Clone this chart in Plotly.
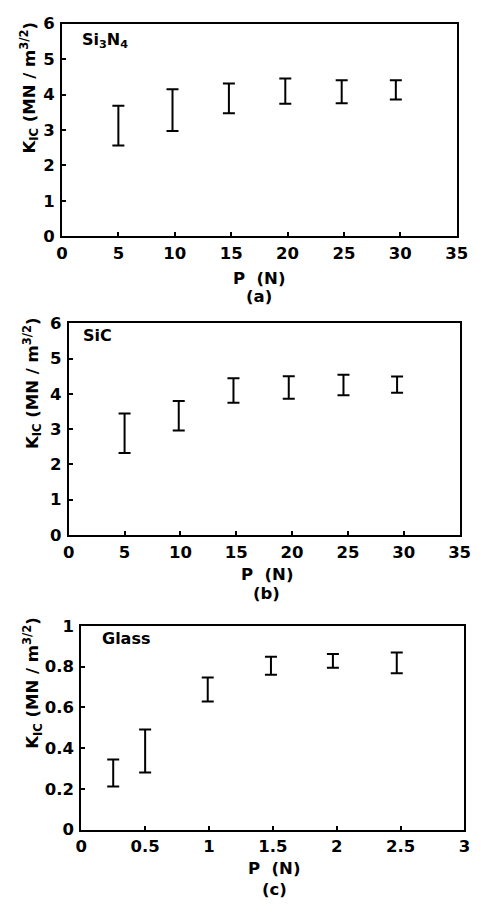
import plotly.graph_objects as go

# Panel (a) Si3N4
p_a = [5, 9.8, 14.8, 19.8, 24.8, 29.6]
lo_a = [2.56, 2.97, 3.47, 3.74, 3.75, 3.86]
hi_a = [3.68, 4.15, 4.31, 4.45, 4.40, 4.40]

# Panel (b) SiC
p_b = [5, 9.85, 14.75, 19.7, 24.6, 29.4]
lo_b = [2.32, 2.96, 3.75, 3.86, 3.96, 4.03]
hi_b = [3.44, 3.80, 4.44, 4.50, 4.54, 4.49]

# Panel (c) Glass
p_c = [0.25, 0.50, 0.99, 1.485, 1.97, 2.47]
lo_c = [0.211, 0.28, 0.629, 0.76, 0.795, 0.768]
hi_c = [0.344, 0.491, 0.747, 0.848, 0.862, 0.869]

labels = ["Si<sub>3</sub>N<sub>4</sub>", "SiC", "Glass"]
panel_tags = ["(a)", "(b)", "(c)"]

W, H = 488, 914
FONT = dict(family="DejaVu Sans, Liberation Sans, sans-serif", size=16.5, color="black", weight="bold")
LFONT = dict(family="DejaVu Sans, Liberation Sans, sans-serif", size=16, color="black", weight="bold")

fig = go.Figure()

panels = [
    (p_a, lo_a, hi_a, "x", "y"),
    (p_b, lo_b, hi_b, "x2", "y2"),
    (p_c, lo_c, hi_c, "x3", "y3"),
]
for p, lo, hi, xa, ya in panels:
    mid = [(l + h) / 2 for l, h in zip(lo, hi)]
    fig.add_trace(go.Scatter(
        x=p, y=mid, xaxis=xa, yaxis=ya, mode="markers",
        marker=dict(size=1, color="rgba(0,0,0,0)"),
        error_y=dict(type="data", symmetric=False,
                     array=[h - m for h, m in zip(hi, mid)],
                     arrayminus=[m - l for m, l in zip(mid, lo)],
                     width=6, thickness=2, color="black"),
        showlegend=False, hoverinfo="skip"))

# pixel boxes (left, right, top, bottom)
boxes = [(58, 467, 15, 232), (65, 470, 321, 537), (78, 475, 630, 838)]
def px2x(v): return v / W
def px2y(v): return 1 - v / H

axcommon = dict(showline=True, linecolor="black", linewidth=2, mirror=True,
                ticks="inside", ticklen=4, tickwidth=1.5, tickcolor="black",
                showgrid=False, zeroline=False, tickfont=FONT)

xranges = [[0, 35], [0, 35], [0, 3]]
xd = [5, 5, 0.5]
yranges = [[0, 6], [0, 6], [0, 1]]
yd = [1, 1, 0.2]
names = ["", "2", "3"]
for i, (l, r, t, b) in enumerate(boxes):
    n = names[i]
    fig.update_layout(**{
        "xaxis" + n: dict(domain=[px2x(l), px2x(r)], range=xranges[i], dtick=xd[i],
                          tick0=0, anchor="y" + n, ticklabelstandoff=1, **axcommon),
        "yaxis" + n: dict(domain=[px2y(b), px2y(t)], range=yranges[i], dtick=yd[i],
                          tick0=0, anchor="x" + n, ticklabelstandoff=2, **axcommon),
    })

ann = []
# sample labels
for (tx, ty), txt in zip([(77, 32), (78, 333), (97, 643)], labels):
    ann.append(dict(x=px2x(tx), y=px2y(ty), xref="paper", yref="paper", text=txt,
                    showarrow=False, xanchor="left", yanchor="middle", font=LFONT))
# y axis titles
for (tx, ty) in [(24, 80), (27, 382), (27, 688)]:
    ann.append(dict(x=px2x(tx), y=px2y(ty), xref="paper", yref="paper",
                    text="K<sub>IC</sub> (MN / m<sup>3/2</sup>)", textangle=-90,
                    showarrow=False, xanchor="center", yanchor="middle", font=FONT))
# x titles and panel tags
for (tx, ty1, ty2), tag in zip([(262, 275, 294), (270, 577, 597), (278, 878, 899)], panel_tags):
    ann.append(dict(x=px2x(tx), y=px2y(ty1), xref="paper", yref="paper", text="P  (N)",
                    showarrow=False, xanchor="center", yanchor="middle", font=FONT))
    ann.append(dict(x=px2x(tx), y=px2y(ty2), xref="paper", yref="paper", text=tag,
                    showarrow=False, xanchor="center", yanchor="middle", font=FONT))

fig.update_layout(width=W, height=H, margin=dict(l=0, r=0, t=0, b=0),
                  paper_bgcolor="white", plot_bgcolor="white", annotations=ann)

fig.write_html("out.html")
